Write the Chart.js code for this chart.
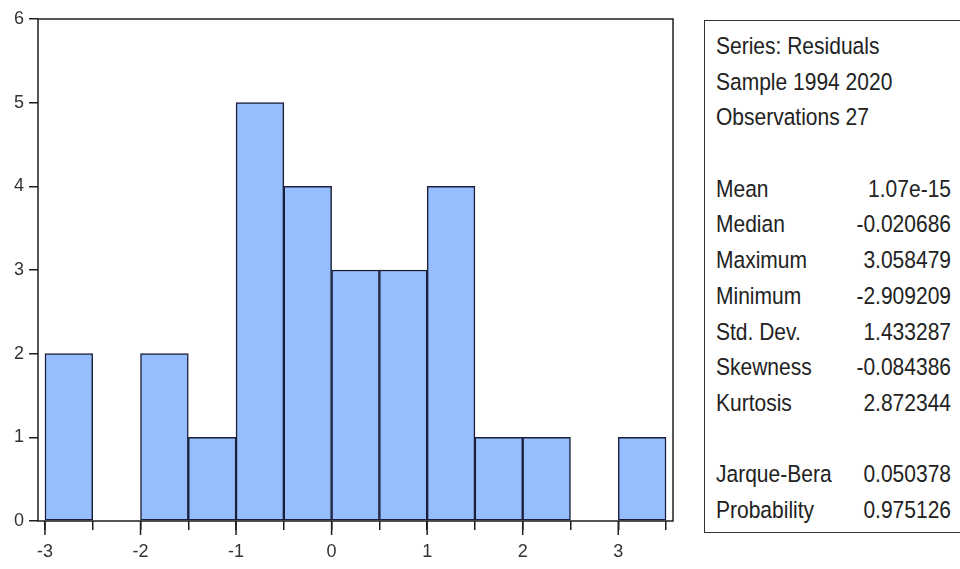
<!DOCTYPE html>
<html>
<head>
<meta charset="utf-8">
<script src="https://cdn.jsdelivr.net/npm/chart.js@4"></script>
<style>
    html, body { margin: 0; padding: 0; background: #fff; overflow: hidden; }
    #wrap { position: relative; width: 960px; height: 569px; }
    #plot { position: absolute; left: 0; top: 0; }
    #stats {
        position: absolute; left: 704px; top: 20px; width: 270px; height: 513px;
        border: 1.5px solid #333; box-sizing: border-box;
        font-family: "Liberation Sans", Arial, sans-serif; font-size: 21px; color: #222;
        padding-top: 7px;
    }
    .row { position: relative; height: 35.7px; line-height: 35.7px; white-space: nowrap; }
    .row .lab { position: absolute; left: 11px; display: inline-block; transform: scaleY(1.15); }
    .row .val { position: absolute; left: 0; width: 246px; text-align: right; display: inline-block; transform: scaleY(1.15); }
</style>
</head>
<body>
<div id="wrap">
    <canvas id="plot" width="700" height="569"></canvas>
    <div id="stats"></div>
</div>
<script>
// histogram bins (left edge, width 0.5) and counts
const binLeft = [-3, -2.5, -2, -1.5, -1, -0.5, 0, 0.5, 1, 1.5, 2, 2.5, 3];
const counts = [2, 0, 2, 1, 5, 4, 3, 3, 4, 1, 1, 0, 1];
const binWidth = 0.5;
const xTickValues = [-3, -2.5, -2, -1.5, -1, -0.5, 0, 0.5, 1, 1.5, 2, 2.5, 3, 3.5];
const yTickValues = [0, 1, 2, 3, 4, 5, 6];

// stats panel
const headerLines = ['Series: Residuals', 'Sample 1994 2020', 'Observations 27'];
const statLabels = ['Mean', 'Median', 'Maximum', 'Minimum', 'Std. Dev.', 'Skewness', 'Kurtosis'];
const statValues = ['1.07e-15', '-0.020686', '3.058479', '-2.909209', '1.433287', '-0.084386', '2.872344'];
const testLabels = ['Jarque-Bera', 'Probability'];
const testValues = ['0.050378', '0.975126'];

const INK = '#1e1e1e';

const buildStats = () => {
    const box = document.getElementById('stats');
    const addRow = (lab, val) => {
        const row = document.createElement('div');
        row.className = 'row';
        if (lab) {
            const l = document.createElement('span');
            l.className = 'lab';
            l.textContent = lab;
            row.appendChild(l);
        }
        if (val) {
            const v = document.createElement('span');
            v.className = 'val';
            v.textContent = val;
            row.appendChild(v);
        }
        box.appendChild(row);
    };
    headerLines.forEach(h => addRow(h, null));
    addRow(null, null);
    statLabels.forEach((s, i) => addRow(s, statValues[i]));
    addRow(null, null);
    testLabels.forEach((s, i) => addRow(s, testValues[i]));
};

// frame around the plot + longer ticks at integer values
const framePlugin = {
    id: 'frame',
    afterDraw(chart) {
        const { ctx, chartArea, scales } = chart;
        ctx.save();
        ctx.strokeStyle = INK;
        ctx.lineWidth = 1.5;
        ctx.strokeRect(chartArea.left, chartArea.top, chartArea.right - chartArea.left, chartArea.bottom - chartArea.top);
        ctx.beginPath();
        xTickValues.filter(v => Number.isInteger(v)).forEach(v => {
            const px = scales.x.getPixelForValue(v);
            ctx.moveTo(px, chartArea.bottom);
            ctx.lineTo(px, chartArea.bottom + 14);
        });
        ctx.stroke();
        ctx.restore();
    }
};

const loadChart = () => {
    const canvasContext = document.getElementById('plot').getContext('2d');
    return new Chart(canvasContext, {
        type: 'bar',
        data: {
            datasets: [{
                data: binLeft.map((b, i) => ({ x: b + binWidth / 2, y: counts[i] })),
                backgroundColor: 'rgb(150,190,255)',
                borderColor: '#1b1f3a',
                borderWidth: 1.5,
                borderSkipped: false,
                barPercentage: 1,
                categoryPercentage: 1
            }]
        },
        options: {
            responsive: false,
            animation: false,
            layout: { padding: { left: 0, top: 19, right: 27, bottom: 0 } },
            plugins: { legend: { display: false }, tooltip: { enabled: false } },
            scales: {
                x: {
                    type: 'linear',
                    offset: false,
                    min: -3.073,
                    max: 3.573,
                    afterBuildTicks: scale => { scale.ticks = xTickValues.map(v => ({ value: v })); },
                    afterFit: scale => { scale.height = 48; },
                    grid: { offset: false, drawOnChartArea: false, drawTicks: true, tickLength: 9, color: INK, lineWidth: 1.5 },
                    border: { display: false },
                    ticks: {
                        autoSkip: false,
                        maxRotation: 0,
                        padding: 11,
                        color: '#333',
                        font: { family: 'Liberation Sans', size: 18 },
                        callback: v => Number.isInteger(v) ? String(v) : ''
                    }
                },
                y: {
                    min: 0,
                    max: 6,
                    afterBuildTicks: scale => { scale.ticks = yTickValues.map(v => ({ value: v })); },
                    afterFit: scale => { scale.width = 38; },
                    grid: { drawOnChartArea: false, drawTicks: true, tickLength: 9, color: INK, lineWidth: 1.5 },
                    border: { display: false },
                    ticks: {
                        padding: 5,
                        color: '#333',
                        font: { family: 'Liberation Sans', size: 18 }
                    }
                }
            }
        },
        plugins: [framePlugin]
    });
};

buildStats();
loadChart();
</script>
</body>
</html>
